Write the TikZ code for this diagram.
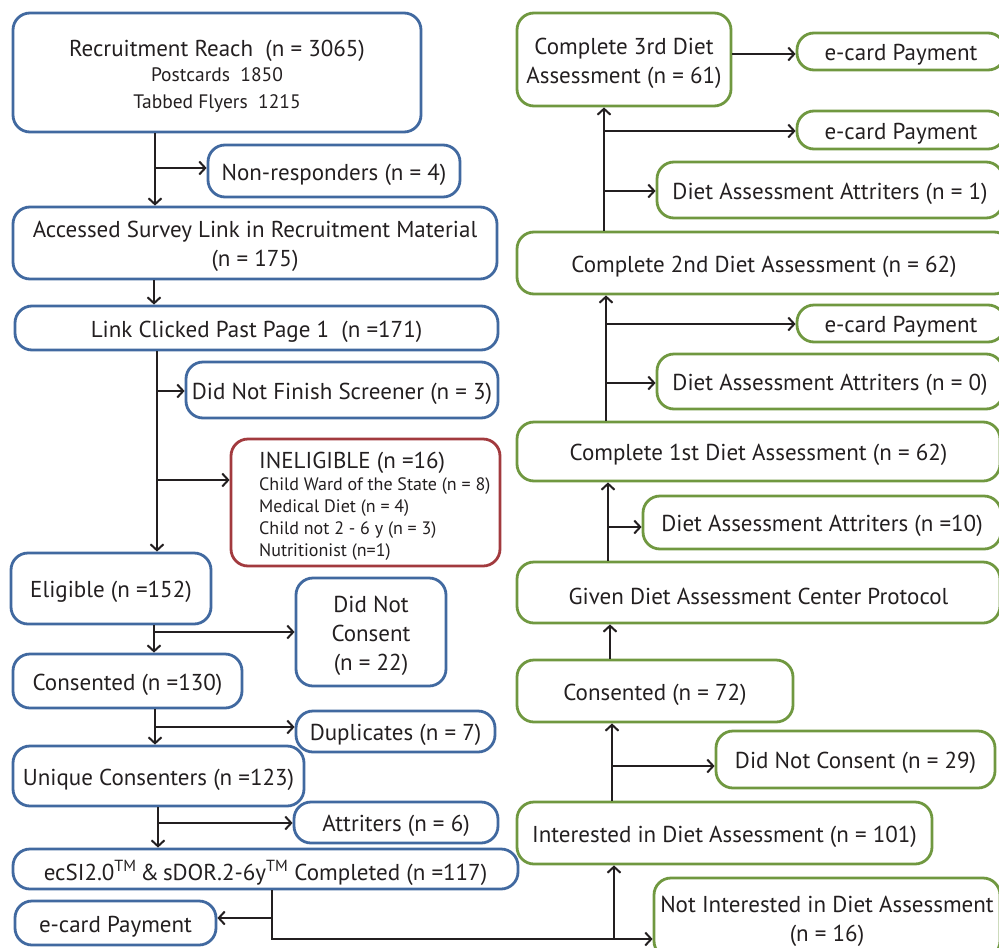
\documentclass[tikz,border=0pt]{standalone}
\usepackage{fontspec}
\setmainfont{PT Sans}
\usetikzlibrary{arrows.meta}
\definecolor{bluec}{RGB}{65,105,160}
\definecolor{greenc}{RGB}{112,152,64}
\definecolor{redc}{RGB}{162,58,62}
\definecolor{txt}{RGB}{35,31,32}
\newcommand\fmain{\fontsize{23}{29}\selectfont}
\newcommand\fsub{\fontsize{19.5}{25}\selectfont}
\newcommand\fsmall{\fontsize{18}{22}\selectfont}
\newcommand\mybox[7]{\node[#1, minimum width={#5-#3}, minimum height={#6-#4}] (#2) at ({(#3+#5)/2},{(#4+#6)/2}) {};
  \node[boxtext] (#2t) at (#2.center) {#7};}
\tikzset{
  boxbase/.style={line width=2.8pt, rounded corners=17pt, inner sep=0pt},
  boxtext/.style={inner sep=0pt, font=\fmain, align=center, text=txt, yshift=-3.5pt},
  bbox/.style={boxbase, draw=bluec},
  gbox/.style={boxbase, draw=greenc},
  rbox/.style={boxbase, draw=redc},
  arr/.style={-{Straight Barb[length=6pt,width=13pt,line width=2pt]}, line width=2.1pt, draw=txt},
}
\begin{document}
\begin{tikzpicture}[x=1pt,y=-1pt]
\useasboundingbox (0,0) rectangle (999,948);
\clip (0,0) rectangle (999,948);
% blue column
\mybox{bbox}{rr}{13}{13}{421}{132}{Recruitment Reach\ \ (n = 3065)\\[-4pt]{\fsub Postcards\ \ 1850}\\[-2pt]{\fsub Tabbed Flyers\ \ 1215}}
\mybox{bbox}{nr}{208}{145}{460}{197}{Non-responders (n = 4)}
\mybox{bbox}{acc}{13}{207}{497}{279}{Accessed Survey Link in Recruitment Material\\(n = 175)}
\mybox{bbox}{lc}{15}{306}{498}{350}{Link Clicked Past Page 1\ \ (n =171)}
\mybox{bbox}{dnf}{186}{362}{498}{418}{Did Not Finish Screener (n = 3)}
\node[boxbase, draw=redc, minimum width=269, minimum height=127] (inel) at (365.5,502.5) {};
\node[font=\fsmall, align=left, anchor=west, text=txt, inner sep=0pt] (ineltxt) at (259,506) {{\fmain INELIGIBLE (n =16)}\\Child Ward of the State (n = 8)\\Medical Diet (n = 4)\\Child not 2 - 6 y (n = 3)\\Nutritionist (n=1)};
\mybox{bbox}{el}{11}{553}{211}{624}{Eligible (n =152)}
\mybox{bbox}{dncb}{296}{578}{446}{686}{Did Not\\Consent\\(n = 22)}
\mybox{bbox}{c130}{13}{654}{242}{708}{Consented (n =130)}
\mybox{bbox}{dup}{296}{711}{495}{752}{Duplicates (n = 7)}
\mybox{bbox}{uc}{13}{746}{304}{806}{Unique Consenters (n =123)}
\mybox{bbox}{att}{294}{802}{498}{843}{Attriters (n = 6)}
\mybox{bbox}{ec}{13}{849}{518}{889}{ecSI2.0\textsuperscript{TM}\,\&\,sDOR.2-6y\textsuperscript{TM} Completed (n =117)}
\mybox{bbox}{ecb}{15}{901}{216}{945}{e-card Payment}
% green column
\mybox{gbox}{c3}{517}{13}{731}{106}{Complete 3rd Diet\\Assessment (n = 61)}
\mybox{gbox}{e1}{797}{33}{1005}{70}{e-card Payment}
\mybox{gbox}{e2}{797}{111}{1005}{149}{e-card Payment}
\mybox{gbox}{a1}{657}{162}{1003}{218}{Diet Assessment Attriters (n = 1)}
\mybox{gbox}{c2}{517}{232}{1011}{294}{Complete 2nd Diet Assessment (n = 62)}
\mybox{gbox}{e3}{797}{305}{1005}{342}{e-card Payment}
\mybox{gbox}{a0}{657}{354}{1003}{409}{Diet Assessment Attriters (n = 0)}
\mybox{gbox}{c1}{517}{422}{1000}{481}{Complete 1st Diet Assessment (n = 62)}
\mybox{gbox}{a10}{643}{496}{1001}{549}{Diet Assessment Attriters (n =10)}
\mybox{gbox}{gv}{517}{562}{1000}{623}{Given Diet Assessment Center Protocol}
\mybox{gbox}{c72}{517}{660}{793}{722}{Consented (n = 72)}
\mybox{gbox}{dnc}{716}{731}{995}{788}{Did Not Consent (n = 29)}
\mybox{gbox}{int}{517}{802}{932}{864}{Interested in Diet Assessment (n = 101)}
\mybox{gbox}{ni}{654}{878}{1000}{958}{Not Interested in Diet Assessment\\(n = 16)}
% connectors
\coordinate (t1) at (155,168);
\draw[arr] (rr.south -| t1) -- (acc.north -| t1);
\draw[arr] (t1) -- (t1 -| nr.west);
\coordinate (t2) at (154,0);
\draw[arr] (acc.south -| t2) -- (lc.north -| t2);
\coordinate (t3) at (157,391);
\coordinate (t3b) at (157,480);
\draw[arr] (lc.south -| t3) -- (el.north -| t3);
\draw[arr] (t3) -- (t3 -| dnf.west);
\draw[arr] (t3b) -- (t3b -| inel.west);
\coordinate (t4) at (154,632);
\draw[arr] (el.south -| t4) -- (c130.north -| t4);
\draw[arr] (t4) -- (t4 -| dncb.west);
\coordinate (t5) at (155,727);
\draw[arr] (c130.south -| t5) -- (uc.north -| t5);
\draw[arr] (t5) -- (t5 -| dup.west);
\coordinate (t6) at (158,823);
\draw[arr] (uc.south -| t6) -- (ec.north -| t6);
\draw[arr] (t6) -- (t6 -| att.west);
\coordinate (t7) at (272,939);
\coordinate (t7b) at (272,918);
\draw[arr] (ec.south -| t7) -- (t7) -- (t7 -| ni.west);
\draw[arr] (t7b) -- (t7b -| ecb.east);
\coordinate (t8) at (614,939);
\draw[arr] (t8) -- (int.south -| t8);
\coordinate (t9) at (612,766);
\draw[arr] (int.north -| t9) -- (c72.south -| t9);
\draw[arr] (t9) -- (t9 -| dnc.west);
\coordinate (t10) at (610,0);
\draw[arr] (c72.north -| t10) -- (gv.south -| t10);
\coordinate (t11) at (608,527);
\draw[arr] (gv.north -| t11) -- (c1.south -| t11);
\draw[arr] (t11) -- (t11 -| a10.west);
\coordinate (t12) at (606,324);
\coordinate (t12b) at (606,383);
\draw[arr] (c1.north -| t12) -- (c2.south -| t12);
\draw[arr] (t12) -- (t12 -| e3.west);
\draw[arr] (t12b) -- (t12b -| a0.west);
\coordinate (t13) at (604,131);
\coordinate (t13b) at (604,191);
\draw[arr] (c2.north -| t13) -- (c3.south -| t13);
\draw[arr] (t13) -- (t13 -| e2.west);
\draw[arr] (t13b) -- (t13b -| a1.west);
\coordinate (t14) at (731,54);
\draw[arr] (c3.east |- t14) -- (t14 -| e1.west);
\end{tikzpicture}
\end{document}
